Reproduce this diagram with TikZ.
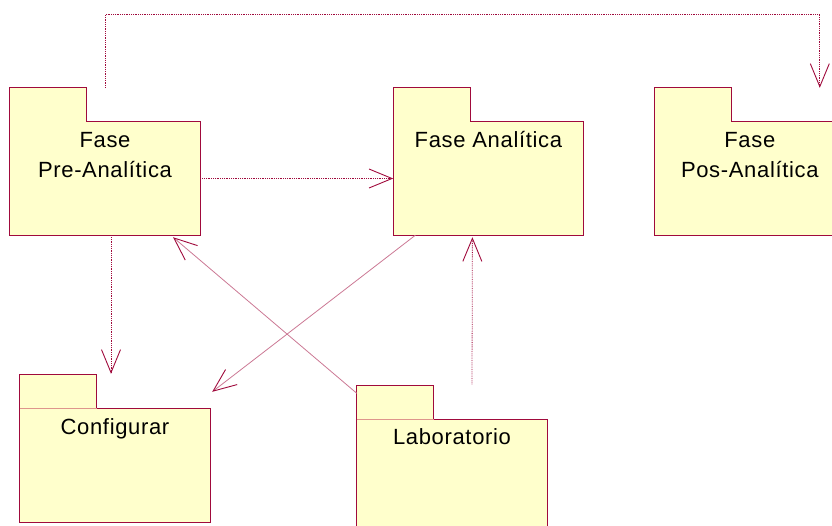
\documentclass[tikz,border=0pt]{standalone}
\usepackage{fontspec}
\setmainfont[LetterSpace=3]{Liberation Sans}
\usetikzlibrary{positioning,arrows.meta}
\definecolor{roseline}{RGB}{160,10,60}
\definecolor{pkgyellow}{RGB}{255,255,204}
\definecolor{tabline}{RGB}{222,150,140}
\tikzset{
  pkg/.style={minimum width=190pt, minimum height=113pt, inner sep=0pt},
  pkgname/.style={anchor=base, align=center, inner sep=0pt,
    font=\fontsize{22}{30}\selectfont},
  pkgline/.style={draw=roseline, line width=0.9pt, fill=pkgyellow},
  tabsep/.style={draw=tabline, line width=0.8pt},
  depend/.style={draw=roseline, line width=0.8pt, densely dotted,
    -{Straight Barb[length=23pt, width=19pt, color=roseline, line width=0.9pt]}},
  diagdep/.style={draw=roseline!55, line width=0.8pt,
    -{Straight Barb[length=23pt, width=19pt, color=roseline, line width=0.9pt]}}
}
% tab + body of a package, drawn round the body node #1
\newcommand{\pkgshape}[1]{%
  \draw[pkgline] ([yshift=34pt]#1.north west) -| ([xshift=77pt]#1.north west)
    -| (#1.south east) -| ([yshift=34pt]#1.north west) -- cycle;}

\begin{document}
\begin{tikzpicture}[x=1pt, y=-1pt]
  \useasboundingbox (0,0) rectangle (832,525);
  \clip (0,0) rectangle (832,525);

  % packages
  \node[pkg] (pre) at (105,178.5) {};
  \node[pkg, right=193pt of pre] (ana) {};
  \node[pkg, right=71pt of ana] (pos) {};
  \node[pkg] (conf) at (115,465.5) {};
  \node[pkg] (lab) at (452,476) {};

  \pkgshape{pre}
  \pkgshape{ana}
  \pkgshape{pos}
  \pkgshape{conf}
  \pkgshape{lab}
  \draw[tabsep] (conf.north west) -- ([xshift=77pt]conf.north west);
  \draw[tabsep] (lab.north west) -- ([xshift=77pt]lab.north west);

  % names (base = baseline of the last line)
  \node[pkgname] (pre-name) at ([yshift=-55.5pt]pre.north) {Fase\\Pre-Analítica};
  \node[pkgname] (ana-name) at ([yshift=-25.5pt]ana.north) {Fase Analítica};
  \node[pkgname] (pos-name) at ([yshift=-55.5pt]pos.north) {Fase\\Pos-Analítica};
  \node[pkgname] (conf-name) at ([yshift=-25.5pt]conf.north) {Configurar};
  \node[pkgname] (lab-name) at ([yshift=-25.5pt]lab.north) {Laboratorio};

  \coordinate (pre-top) at ([yshift=34pt]pre.north);
  \coordinate (pos-top) at ([xshift=70pt, yshift=34pt]pos.north);
  \coordinate (conf-top) at ([yshift=35pt]conf.north);

  % dependencies
  \draw[depend] ([xshift=2pt]pre.east) -- (ana.west);
  \draw[depend] (pre-top) -- ++(0,-73) -| (pos-top);
  \draw[depend] ([xshift=6pt]pre.south) -- ([xshift=6pt]pre.south |- conf-top);
  \draw[diagdep] ([xshift=-73pt]ana.south) -- ([xshift=2pt, yshift=17pt]conf.north east);
  \draw[diagdep] ([yshift=26pt]lab.north west) -- ([xshift=68pt, yshift=-2pt]pre.south);
  \draw[depend] ([xshift=20pt, yshift=35pt]lab.north) -- ([xshift=-16pt, yshift=-2pt]ana.south);
\end{tikzpicture}
\end{document}
